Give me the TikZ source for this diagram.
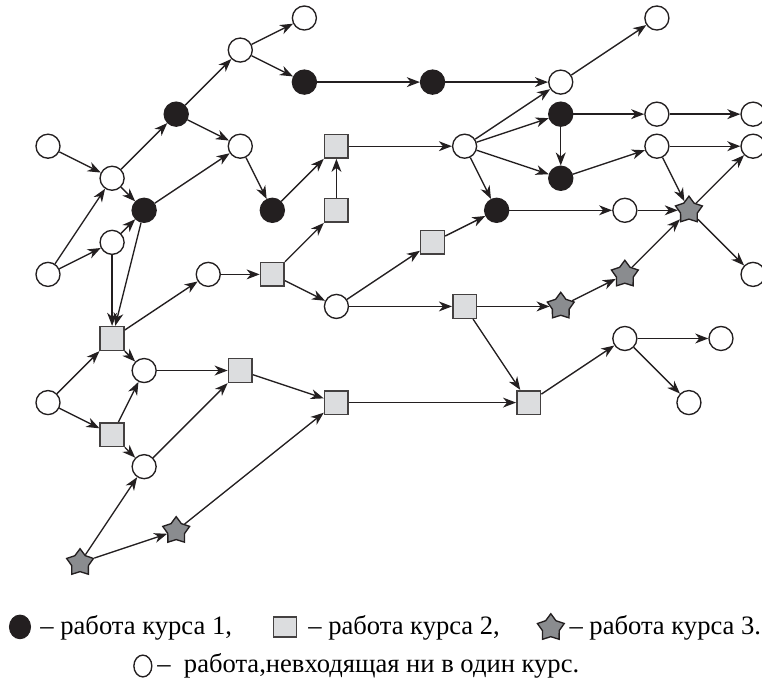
\documentclass[tikz,border=0pt]{standalone}
\usepackage{fontspec}
\setmainfont{Liberation Serif}
\usepackage{xcolor}
\usetikzlibrary{shapes.geometric,arrows.meta,positioning}
\definecolor{inkblack}{RGB}{35,31,32}
\definecolor{boxgray}{RGB}{220,221,223}
\definecolor{stargray}{RGB}{138,140,143}

\tikzset{
  free/.style={draw=inkblack, circle, fill=white, minimum size=0.375cm, inner sep=0pt, line width=0.6pt},
  course1/.style={draw=inkblack, circle, fill=inkblack, minimum size=0.375cm, inner sep=0pt, line width=0.6pt},
  course2/.style={draw=inkblack!85, rectangle, fill=boxgray, minimum size=0.37cm, inner sep=0pt, line width=0.7pt},
  course3/.style={draw=inkblack, star, star points=5, star point ratio=1.6, fill=stargray, minimum size=0.44cm, inner sep=0pt, line width=0.6pt},
  link/.style={->, draw=inkblack, line width=0.6pt},
  keytext/.style={anchor=base west, inner sep=0pt, font=\fontsize{11.8}{14}\selectfont}
}

\begin{document}
\begin{tikzpicture}[x=0.5cm, y=0.5cm, >={Stealth[length=5.8pt,width=4.4pt,inset=1.8pt]}]
    \useasboundingbox (-1.498,0.562) rectangle (22.28,-20.62);

    % works outside any course
    \node[free] (f1) at (0,-4) {};
    \node[free] (f2) at (0,-8) {};
    \node[free] (f3) at (2,-5) {};
    \node[free] (f4) at (2,-7) {};
    \node[free] (f5) at (6,-1) {};
    \node[free] (f6) at (8,0) {};
    \node[free] (f7) at (6,-4) {};
    \node[free] (f8) at (5,-8) {};
    \node[free] (f9) at (9,-9) {};
    \node[free] (f10) at (13,-4) {};
    \node[free] (f11) at (16,-2) {};
    \node[free] (f12) at (19,0) {};
    \node[free] (f13) at (19,-3) {};
    \node[free] (f14) at (22,-3) {};
    \node[free] (f15) at (19,-4) {};
    \node[free] (f16) at (22,-4) {};
    \node[free] (f17) at (18,-6) {};
    \node[free] (f18) at (22,-8) {};
    \node[free] (f19) at (18,-10) {};
    \node[free] (f20) at (21,-10) {};
    \node[free] (f21) at (20,-12) {};
    \node[free] (f22) at (3,-11) {};
    \node[free] (f23) at (0,-12) {};
    \node[free] (f24) at (3,-14) {};

    % course 1
    \node[course1] (a1) at (4,-3) {};
    \node[course1] (a2) at (3,-6) {};
    \node[course1] (a3) at (8,-2) {};
    \node[course1] (a4) at (7,-6) {};
    \node[course1] (a5) at (12,-2) {};
    \node[course1] (a6) at (16,-3) {};
    \node[course1] (a7) at (16,-5) {};
    \node[course1] (a8) at (14,-6) {};

    % course 2
    \node[course2] (b1) at (9,-4) {};
    \node[course2] (b2) at (9,-6) {};
    \node[course2] (b3) at (7,-8) {};
    \node[course2] (b4) at (12,-7) {};
    \node[course2] (b5) at (13,-9) {};
    \node[course2] (b6) at (15,-12) {};
    \node[course2] (b7) at (2,-10) {};
    \node[course2] (b8) at (6,-11) {};
    \node[course2] (b9) at (9,-12) {};
    \node[course2] (b10) at (2,-13) {};

    % course 3
    \node[course3] (c1) at (20,-6) {};
    \node[course3] (c2) at (18,-8) {};
    \node[course3] (c3) at (16,-9) {};
    \node[course3] (c4) at (4,-16) {};
    \node[course3] (c5) at (1,-17) {};

    \draw[link] (f1) -- (f3);
    \draw[link] (f2) -- (f3);
    \draw[link] (f2) -- (f4);
    \draw[link] (f3) -- (a1);
    \draw[link] (f3) -- (a2);
    \draw[link] (f4) -- (a2);
    \draw[link] (f4) -- (b7);
    \draw[link] (a2) -- (b7);
    \draw[link] (a1) -- (f5);
    \draw[link] (a1) -- (f7);
    \draw[link] (a2) -- (f7);
    \draw[link] (f5) -- (f6);
    \draw[link] (f5) -- (a3);
    \draw[link] (f7) -- (a4);
    \draw[link] (a4) -- (b1);
    \draw[link] (b2) -- (b1);
    \draw[link] (b3) -- (b2);
    \draw[link] (f8) -- (b3);
    \draw[link] (b3) -- (f9);
    \draw[link] (b1) -- (f10);
    \draw[link] (a3) -- (a5);
    \draw[link] (a5) -- (f11);
    \draw[link] (f11) -- (f12);
    \draw[link] (f10) -- (f11);
    \draw[link] (f10) -- (a6);
    \draw[link] (f10) -- (a7);
    \draw[link] (f10) -- (a8);
    \draw[link] (a6) -- (a7);
    \draw[link] (a6) -- (f13);
    \draw[link] (f13) -- (f14);
    \draw[link] (a7) -- (f15);
    \draw[link] (f15) -- (f16);
    \draw[link] (f15) -- (c1);
    \draw[link] (c1) -- (f16);
    \draw[link] (a8) -- (f17);
    \draw[link] (f17) -- (c1);
    \draw[link] (c2) -- (c1);
    \draw[link] (c1) -- (f18);
    \draw[link] (f9) -- (b4);
    \draw[link] (b4) -- (a8);
    \draw[link] (f9) -- (b5);
    \draw[link] (b5) -- (c3);
    \draw[link] (c3) -- (c2);
    \draw[link] (b5) -- (b6);
    \draw[link] (b9) -- (b6);
    \draw[link] (b6) -- (f19);
    \draw[link] (f19) -- (f20);
    \draw[link] (f19) -- (f21);
    \draw[link] (b7) -- (f8);
    \draw[link] (b7) -- (f22);
    \draw[link] (f23) -- (b7);
    \draw[link] (f23) -- (b10);
    \draw[link] (b10) -- (f22);
    \draw[link] (b10) -- (f24);
    \draw[link] (f22) -- (b8);
    \draw[link] (f24) -- (b8);
    \draw[link] (b8) -- (b9);
    \draw[link] (c5) -- (f24);
    \draw[link] (c5) -- (c4);
    \draw[link] (c4) -- (b9);

    % legend
    \node[draw=inkblack, ellipse, fill=inkblack, minimum width=0.33cm, minimum height=0.37cm, inner sep=0pt] (key1) at (-0.874,-19.0) {};
    \node[keytext] (keytext1) at (-0.25,-19.25) {– работа курса 1,};
    \node[course2, minimum width=0.36cm, minimum height=0.31cm] (key2) at (7.39,-19.0) {};
    \node[keytext] (keytext2) at (8.11,-19.25) {– работа курса 2,};
    \node[course3] (key3) at (15.69,-19.03) {};
    \node[keytext] (keytext3) at (16.26,-19.25) {– работа курса 3.};
    \node[draw=inkblack, ellipse, fill=white, minimum width=0.28cm, minimum height=0.34cm, inner sep=0pt, line width=0.6pt] (key4) at (2.96,-20.22) {};
    \node[keytext] (keytext4) at (3.40,-20.41) {– \ работа,невходящая ни в один курс.};
\end{tikzpicture}
\end{document}
